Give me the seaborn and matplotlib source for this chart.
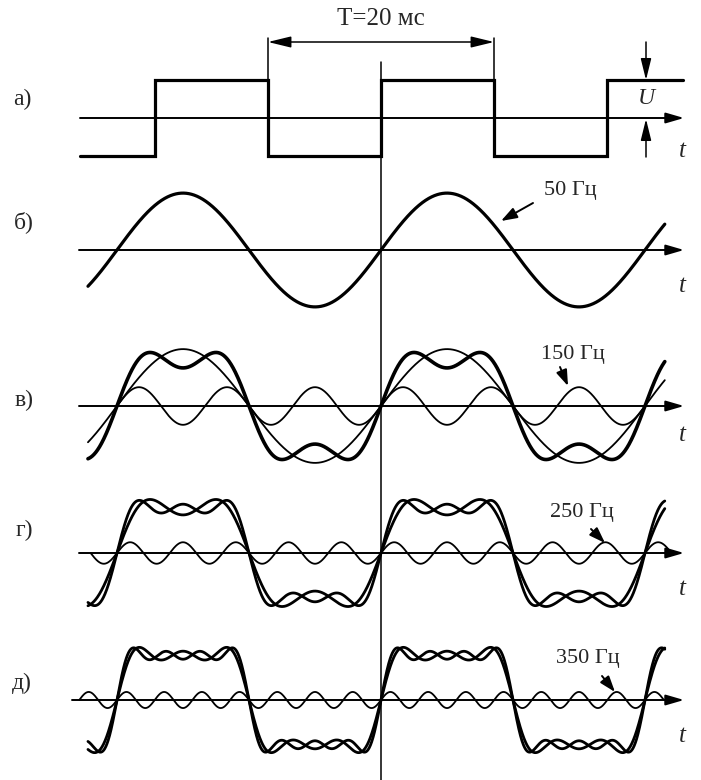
import numpy as np
import matplotlib
matplotlib.use("Agg")
import matplotlib.pyplot as plt
import seaborn as sns

# значения
period_ms = 20.0
harm_freq_hz = [50, 150, 250, 350]
harm_amp_u = [1.27, 0.42, 0.24, 0.18]        # амплитуда гармоники, в единицах U
harm_start_ms = [-22.2, -20.0, -22.0, -22.86]
harm_end_ms = [21.5, 20.0, 22.0, 21.43]
sum_start_ms, sum_end_ms = -22.2, 21.5
harm_labels = ["50 Гц", "150 Гц", "250 Гц", "350 Гц"]
panel_labels = ["а)", "б)", "в)", "г)", "д)"]
# прямоугольный сигнал а): моменты переключения (мс) и уровень (U)
square_t_ms = [-26.6, -20, -20, -10, -10, 0, 0, 10, 10, 20, 20, 26.7]
square_u = [-1, -1, 1, 1, -1, -1, 1, 1, -1, -1, 1, 1]

# раскладка в пикселях
W, H = 701, 780
X0 = 381                                   # t = 0
rows_y = [118, 250, 406, 553, 700]         # уровень оси t каждой строки
axis_x0 = [80, 79, 79, 79, 72]
axis_tip = 684
t_label_y = [151, 286, 435, 589, 736]
panel_label_pos = [(22, 99), (24, 222), (24, 400), (24, 530), (22, 683)]
# подписи частот: (текст x, y), (начало стрелки), (острие)
hz_text = [(570, 190), (573, 354), (582, 512), (588, 658)]
hz_from = [(533, 203), (560, 367), (591, 529), (602, 676)]
hz_to = [(501, 221), (568, 386), (605, 543), (615, 692)]

sns.set_style("white")
plt.rcParams["font.family"] = ["Liberation Serif", "DejaVu Serif"]

fig = plt.figure(figsize=(W / 100, H / 100), dpi=100)

def panel(yc, px_ms, px_u, half=95):
    ax = fig.add_axes([0, (H - yc - half) / H, 1, 2 * half / H])
    ax.set_xlim(-X0 / px_ms, (W - X0) / px_ms)
    ax.set_ylim(-half / px_u, half / px_u)
    ax.axis("off")
    ax.patch.set_alpha(0)
    return ax

def harmonic(i, t):
    return harm_amp_u[i] * np.sin(2 * np.pi * harm_freq_hz[i] * t / 1000.0)

def partial_sum(k, t):
    return sum(harmonic(i, t) for i in range(k))

def draw(ax, t, u, lw):
    sns.lineplot(x=t, y=u, ax=ax, color="black", lw=lw, estimator=None,
                 sort=False, legend=False, solid_joinstyle="miter")

# а) прямоугольный сигнал
ax_a = panel(rows_y[0], 113 / (period_ms / 2), 38)
draw(ax_a, np.array(square_t_ms), np.array(square_u), 2.3)

# б)-д) гармоники и их суммы
px_ms, px_u = 264 / period_ms, 44.8
t_sum = np.linspace(sum_start_ms, sum_end_ms, 2000)
axes = [panel(y, px_ms, px_u) for y in rows_y[1:]]

draw(axes[0], t_sum, harmonic(0, t_sum), 2.3)

t3 = np.linspace(harm_start_ms[1], harm_end_ms[1], 1500)
draw(axes[1], t_sum, harmonic(0, t_sum), 1.3)
draw(axes[1], t3, harmonic(1, t3), 1.3)
draw(axes[1], t_sum, partial_sum(2, t_sum), 2.6)

for j, k in [(2, 2), (3, 3)]:
    th = np.linspace(harm_start_ms[k], harm_end_ms[k], 1500)
    draw(axes[j], th, harmonic(k, th), 1.3)
    draw(axes[j], t_sum, partial_sum(k, t_sum), 2.0)
    draw(axes[j], t_sum, partial_sum(k + 1, t_sum), 2.0)

# оформление поверх всего, в пикселях
ov = fig.add_axes([0, 0, 1, 1])
ov.set_xlim(0, W)
ov.set_ylim(H, 0)
ov.axis("off")
ov.patch.set_alpha(0)

ax_arrow = dict(arrowstyle="-|>,head_length=0.55,head_width=0.16",
                mutation_scale=20, lw=1.4, color="black", shrinkA=0, shrinkB=0)
for y, x_start, ty in zip(rows_y, axis_x0, t_label_y):
    ov.annotate("", xy=(axis_tip, y), xytext=(x_start, y), arrowprops=ax_arrow)
    ov.text(682, ty, "t", style="italic", fontsize=18, ha="center", va="center")

for lab, (lx, ly) in zip(panel_labels, panel_label_pos):
    ov.text(lx, ly, lab, fontsize=17, ha="center", va="center")

ov.plot([X0, X0], [62, H], color="black", lw=1.1)

# размер периода
ov.plot([268, 268], [38, 80], color="black", lw=1.1)
ov.plot([494, 494], [38, 80], color="black", lw=1.1)
ov.annotate("", xy=(268, 42), xytext=(494, 42),
            arrowprops=dict(arrowstyle="<|-|>,head_length=0.7,head_width=0.17",
                            mutation_scale=20, lw=1.1, color="black",
                            shrinkA=0, shrinkB=0))
ov.text(X0, 19, "T=20 мс", fontsize=18, ha="center", va="center")

# амплитуда U
dim_arrow = dict(arrowstyle="-|>,head_length=0.65,head_width=0.16",
                 mutation_scale=20, lw=1.1, color="black", shrinkA=0, shrinkB=0)
ov.annotate("", xy=(646, 80), xytext=(646, 42), arrowprops=dim_arrow)
ov.annotate("", xy=(646, 119), xytext=(646, 157), arrowprops=dim_arrow)
ov.text(646, 99, "U", style="italic", fontsize=17, ha="center", va="center")

# подписи частот
for lab, tp, fr, to in zip(harm_labels, hz_text, hz_from, hz_to):
    ov.text(tp[0], tp[1], lab, fontsize=16, ha="center", va="center")
    ov.annotate("", xy=to, xytext=fr,
                arrowprops=dict(arrowstyle="-|>,head_length=0.8,head_width=0.28",
                                mutation_scale=12, lw=1.4, color="black",
                                shrinkA=0, shrinkB=0))

fig.savefig("out.png", dpi=100)
